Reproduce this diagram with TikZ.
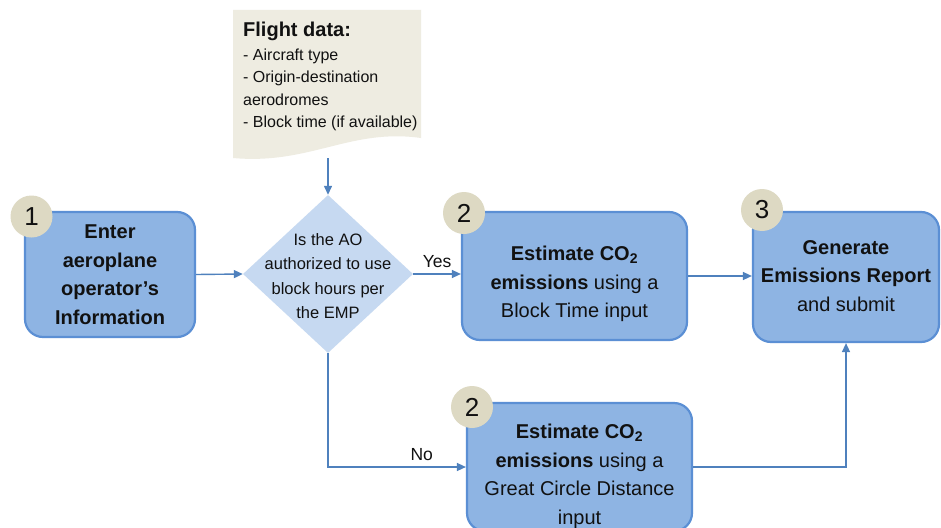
\documentclass[tikz,border=0pt]{standalone}
\usepackage{fontspec}
\setmainfont{Liberation Sans}
\usetikzlibrary{shapes.geometric,arrows.meta}
\definecolor{boxfill}{HTML}{8EB4E3}
\definecolor{boxline}{HTML}{5B8FD4}
\definecolor{diafill}{HTML}{C6D9F1}
\definecolor{badgefill}{HTML}{DDD9C3}
\definecolor{docfill}{HTML}{EEECE1}
\definecolor{arrowc}{HTML}{4F81BD}
\definecolor{txt}{HTML}{111111}
\begin{document}
\begin{tikzpicture}[x=1pt,y=-1pt,
 stepbox/.style={draw=boxline, line width=2.2pt, fill=boxfill, rounded corners=18pt, inner sep=0pt, align=center, text=txt, font=\fontsize{20}{28.5}\selectfont},
 boxtext/.style={align=center, text=txt, inner sep=0pt, font=\fontsize{20}{28.5}\selectfont},
 badge/.style={circle, fill=badgefill, minimum size=42pt, inner sep=0pt, font=\fontsize{26}{26}\selectfont, text=txt},
 conn/.style={draw=arrowc, line width=1.4pt, -{Triangle[length=9pt,width=8pt]}},
 lbl/.style={font=\fontsize{17.5}{20}\selectfont, text=txt, inner sep=6pt}
]
\useasboundingbox (0,0) rectangle (941,527);
\clip (0,0) rectangle (941,527);
\fill[white] (0,0) rectangle (941,527);

% flight data document
\fill[docfill] (233,10) -- (421,10) -- (421,138) .. controls (350,128) and (310,165) .. (233,158) -- cycle;
\node[anchor=north west, align=left, inner sep=0pt, text=txt, font=\fontsize{16}{22.5}\selectfont] (fd) at (243,22)
 {{\fontsize{20}{24}\selectfont\bfseries Flight data:}\\[1pt]- Aircraft type\\- Origin-destination\\aerodromes\\- Block time (if available)};
\coordinate (docb) at (328,158);

% decision
\node[diamond, fill=diafill, minimum width=170pt, minimum height=158pt, inner sep=0pt] (dia) at (328,274) {};
\node[align=center, inner sep=0pt, font=\fontsize{16.5}{24.5}\selectfont, text=txt] (diat) at (328,276) {Is the AO\\authorized to use\\block hours per\\the EMP};

% boxes
\node[stepbox, minimum width=170pt, minimum height=125pt, text width=160pt] (b1) at (110,274.5) {\bfseries Enter\\aeroplane\\operator’s\\Information};
\node[stepbox, minimum width=225pt, minimum height=128pt] (b2) at (574.5,276) {};
\node[boxtext] (b2t) at (574.5,284) {\textbf{Estimate CO\textsubscript{2}}\\\textbf{emissions} using a\\Block Time input};
\node[stepbox, minimum width=186pt, minimum height=130pt] (b3) at (846,277) {};
\node[boxtext] (b3t) at (846,276) {\textbf{Generate}\\\textbf{Emissions Report}\\and submit};
\node[stepbox, minimum width=225pt, minimum height=128pt] (b4) at (579.5,467) {};
\node[boxtext, anchor=north] (b4t) at (579.5,424) {\textbf{Estimate CO\textsubscript{2}}\\\textbf{emissions} using a\\Great Circle Distance\\input};

% badges
\node[badge] (n1) at (31.5,216.5) {1};
\node[badge] (n2) at (464,213) {2};
\node[badge] (n3) at (762,210) {3};
\node[badge] (n4) at (472,407) {2};

% connectors
\draw[conn] (docb) -- (dia.north);
\draw[conn] (b1.east) -- (dia.west);
\draw[conn] (dia.east) -- (dia.east -| b2.west) node[lbl, midway, above] {Yes};
\draw[conn] (b2.east) -- (b2.east -| b3.west);
\draw[conn] (dia.south) |- (b4.west) node[lbl, pos=0.84, above] {No};
\draw[conn] (b4.east) -| (b3.south);
\end{tikzpicture}
\end{document}
